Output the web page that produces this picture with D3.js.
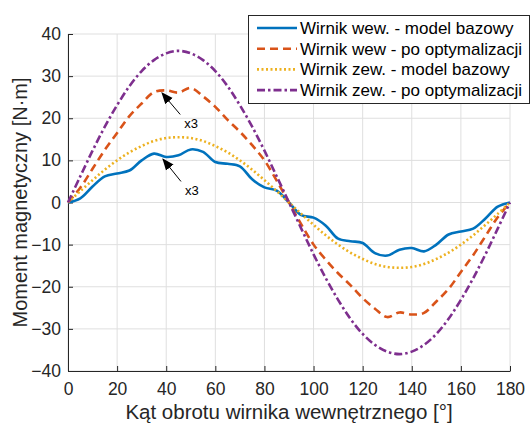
<!DOCTYPE html>
<html>
<head>
<meta charset="utf-8">
<script src="https://cdn.jsdelivr.net/npm/d3@7"></script>
<style>
  body { margin: 0; background: #fff; }
  svg { font-family: "Liberation Sans", Arial, sans-serif; }
</style>
</head>
<body>
<div id="chart"></div>
<script>
// angle in degrees
const angles = d3.range(0, 181, 5);

const wewBazowy = [0, 1.0, 3.8, 6.2, 6.9, 7.6, 10.0, 11.6, 10.8, 11.2, 12.6, 12.0, 9.6, 9.2, 8.6, 5.5, 3.6, 2.8, 0,
  -3.0, -3.6, -5.5, -8.6, -9.2, -9.6, -12.0, -12.6, -11.2, -10.8, -11.6, -10.0, -7.6, -6.9, -6.2, -3.8, -1.0, 0];
const wewOptym = [0, 3.5, 8, 12.5, 16.5, 20.5, 23.5, 26.2, 26.6, 26.1, 27.2, 25.2, 22.7, 19.6, 16.8, 13.6, 10, 5.2, 0,
  -5.2, -10, -13.6, -16.8, -19.6, -22.7, -25.2, -27.2, -26.1, -26.6, -26.2, -23.5, -20.5, -16.5, -12.5, -8, -3.5, 0];
const zewBazowy = [0, 2.7, 5.3, 7.8, 10, 11.9, 13.4, 14.6, 15.3, 15.5, 15.3, 14.6, 13.4, 11.9, 10, 7.8, 5.3, 2.7, 0,
  -2.7, -5.3, -7.8, -10, -11.9, -13.4, -14.6, -15.3, -15.5, -15.3, -14.6, -13.4, -11.9, -10, -7.8, -5.3, -2.7, 0];
const zewOptym = [0, 6.2, 12.3, 18, 23.1, 27.6, 31.2, 33.8, 35.4, 36, 35.4, 33.8, 31.2, 27.6, 23.1, 18, 12.3, 6.2, 0,
  -6.2, -12.3, -18, -23.1, -27.6, -31.2, -33.8, -35.4, -36, -35.4, -33.8, -31.2, -27.6, -23.1, -18, -12.3, -6.2, 0];

const seriesNames = [
  'Wirnik wew. - model bazowy',
  'Wirnik wew - po optymalizacji',
  'Wirnik zew. - model bazowy',
  'Wirnik zew. - po optymalizacji'
];
const xTicks = [0, 20, 40, 60, 80, 100, 120, 140, 160, 180];
const yTicks = [-40, -30, -20, -10, 0, 10, 20, 30, 40];

// arrows: [head angle, head value, tail angle, tail value]
const arrows = [
  [38.3, 26.0, 45.7, 20.9],
  [38.7, 10.3, 46.0, 5.0]
];
const arrowLabel = 'x3';

const width = 531, height = 429;
const margin = {top: 34, right: 21, bottom: 58, left: 68};

const svg = d3.select('#chart').append('svg')
  .attr('width', width)
  .attr('height', height);

const x = d3.scaleLinear().domain([0, 180]).range([margin.left, width - margin.right]);
const y = d3.scaleLinear().domain([-40, 40]).range([height - margin.bottom, margin.top]);

// grid
svg.append('g')
  .selectAll('line')
  .data(xTicks)
  .enter().append('line')
  .attr('x1', d => x(d)).attr('x2', d => x(d))
  .attr('y1', y(-40)).attr('y2', y(40))
  .attr('stroke', '#dfdfdf').attr('stroke-width', 1);
svg.append('g')
  .selectAll('line')
  .data(yTicks)
  .enter().append('line')
  .attr('x1', x(0)).attr('x2', x(180))
  .attr('y1', d => y(d)).attr('y2', d => y(d))
  .attr('stroke', '#dfdfdf').attr('stroke-width', 1);

// axes
const xAxis = svg.append('g')
  .attr('transform', `translate(0,${y(-40)})`)
  .call(d3.axisBottom(x).tickValues(xTicks).tickSizeInner(-5).tickSizeOuter(0).tickPadding(9));
const yAxis = svg.append('g')
  .attr('transform', `translate(${x(0)},0)`)
  .call(d3.axisLeft(y).tickValues(yTicks).tickSizeInner(-5).tickSizeOuter(0).tickPadding(7));

[xAxis, yAxis].forEach(function (a) {
  a.select('.domain').attr('stroke', '#262626');
  a.selectAll('.tick line').attr('stroke', '#262626');
  a.selectAll('.tick text')
    .attr('fill', '#262626')
    .style('font-size', '17.5px')
    .style('font-family', '"Liberation Sans", Arial, sans-serif');
});
xAxis.selectAll('.tick text').attr('dy', '0.85em');

// axis titles
svg.append('text')
  .attr('x', x(90))
  .attr('y', 419)
  .attr('text-anchor', 'middle')
  .attr('fill', '#262626')
  .style('font-size', '20.5px')
  .text('Kąt obrotu wirnika wewnętrznego [°]');

svg.append('text')
  .attr('transform', `translate(27,${y(0)}) rotate(-90)`)
  .attr('text-anchor', 'middle')
  .attr('fill', '#262626')
  .style('font-size', '20px')
  .text('Moment magnetyczny [N·m]');

// lines
const series = [
  {name: seriesNames[0], values: wewBazowy, color: '#0072BD', dash: null},
  {name: seriesNames[1], values: wewOptym, color: '#D95319', dash: '8,5'},
  {name: seriesNames[2], values: zewBazowy, color: '#EDB120', dash: '2,2.5'},
  {name: seriesNames[3], values: zewOptym, color: '#7E2F8E', dash: '8,3,2.5,3'}
];

const line = d3.line()
  .x(d => x(d[0]))
  .y(d => y(d[1]))
  .curve(d3.curveCatmullRom);

svg.append('g')
  .selectAll('path')
  .data(series)
  .enter().append('path')
  .attr('d', d => line(angles.map((a, i) => [a, d.values[i]])))
  .attr('fill', 'none')
  .attr('stroke', d => d.color)
  .attr('stroke-width', 2.6)
  .attr('stroke-dasharray', d => d.dash);

// arrows
const defs = svg.append('defs');
defs.append('marker')
  .attr('id', 'arrowhead')
  .attr('viewBox', '0 0 10 10')
  .attr('refX', 9).attr('refY', 5)
  .attr('markerWidth', 12).attr('markerHeight', 12)
  .attr('markerUnits', 'userSpaceOnUse')
  .attr('orient', 'auto')
  .append('path')
  .attr('d', 'M0,1 L10,5 L0,9 Z')
  .attr('fill', '#000');

const ann = svg.append('g');
arrows.forEach(function (a) {
  ann.append('line')
    .attr('x1', x(a[2])).attr('y1', y(a[3]))
    .attr('x2', x(a[0])).attr('y2', y(a[1]))
    .attr('stroke', '#000').attr('stroke-width', 1)
    .attr('marker-end', 'url(#arrowhead)');
  ann.append('text')
    .attr('x', x(a[2]) + 4)
    .attr('y', y(a[3]) + 14)
    .attr('fill', '#000')
    .style('font-size', '13px')
    .text(arrowLabel);
});

// legend
const lg = svg.append('g');
lg.append('rect')
  .attr('x', 248.5).attr('y', 15.5)
  .attr('width', 281).attr('height', 88)
  .attr('fill', '#fff')
  .attr('stroke', '#262626')
  .attr('stroke-width', 1);

const items = lg.selectAll('g.item')
  .data(series)
  .enter().append('g')
  .attr('class', 'item')
  .attr('transform', (d, i) => `translate(0,${28 + i * 20.7})`);
items.append('line')
  .attr('x1', 257).attr('x2', 297)
  .attr('y1', 0).attr('y2', 0)
  .attr('stroke', d => d.color)
  .attr('stroke-width', 2.6)
  .attr('stroke-dasharray', d => d.dash);
items.append('text')
  .attr('x', 300)
  .attr('y', 0)
  .attr('dy', '0.35em')
  .attr('fill', '#000')
  .style('font-size', '17px')
  .text(d => d.name);
</script>
</body>
</html>
